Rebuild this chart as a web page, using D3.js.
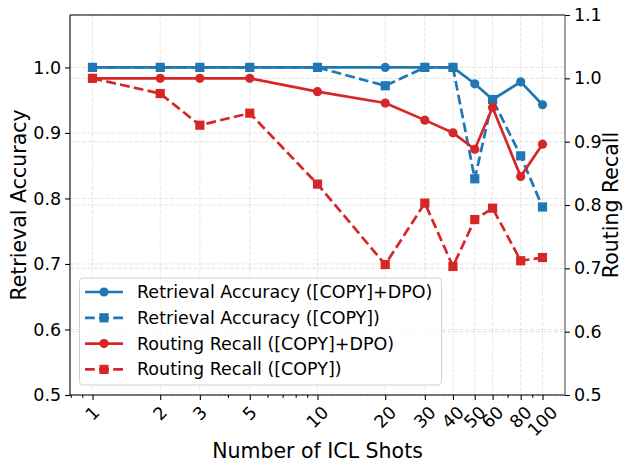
<!DOCTYPE html>
<html>
<head>
<meta charset="utf-8">
<script src="https://cdn.jsdelivr.net/npm/d3@7"></script>
<style>
  html, body { margin: 0; padding: 0; background: #fff; }
  svg { display: block; font-family: "DejaVu Sans", sans-serif; }
</style>
</head>
<body>
<svg id="chart" width="626" height="462"></svg>
<script>
// ---- data ----
const shots = [1, 2, 3, 5, 10, 20, 30, 40, 50, 60, 80, 100];
const shotTickLabels = ["1", "2", "3", "5", "10", "20", "30", "40", "50", "60", "80", "100"];
const minorShotTicks = [0.8, 0.9, 4, 6, 7, 8, 9, 70, 90];
const retrievalDPO  = [1.0, 1.0, 1.0, 1.0, 1.0, 1.0, 1.0, 1.0, 0.975, 0.951, 0.978, 0.943];
const retrievalCopy = [1.0, 1.0, 1.0, 1.0, 1.0, 0.972, 1.0, 1.0, 0.830, 0.951, 0.865, 0.787];
const routingDPO    = [1.0, 1.0, 1.0, 1.0, 0.979, 0.961, 0.934, 0.914, 0.888, 0.954, 0.845, 0.896];
const routingCopy   = [1.0, 0.976, 0.926, 0.945, 0.833, 0.706, 0.803, 0.703, 0.777, 0.795, 0.712, 0.717];
const leftTicks  = [0.5, 0.6, 0.7, 0.8, 0.9, 1.0];
const rightTicks = [0.5, 0.6, 0.7, 0.8, 0.9, 1.0, 1.1];
const seriesNames = [
  "Retrieval Accuracy ([COPY]+DPO)",
  "Retrieval Accuracy ([COPY])",
  "Routing Recall ([COPY]+DPO)",
  "Routing Recall ([COPY])"
];

// ---- layout ----
const L = 70, R = 565, T = 15, B = 395;
const BLUE = "#1f77b4", RED = "#d62728";
const svg = d3.select("#chart");

const x = d3.scaleLog().domain([Math.pow(10, -0.1), Math.pow(10, 2.1)]).range([L, R]);
const yL = d3.scaleLinear().domain([0.5, 1.08]).range([B, T]);
const yR = d3.scaleLinear().domain([0.5, 1.1]).range([B, T]);

// ---- grid ----
const grid = svg.append("g").attr("stroke", "#b0b0b0").attr("stroke-opacity", 0.3)
  .attr("stroke-width", 1.1).attr("stroke-dasharray", "4.1,1.8");
shots.forEach(s => {
  grid.append("line").attr("x1", x(s)).attr("x2", x(s)).attr("y1", T).attr("y2", B);
});
leftTicks.forEach(v => {
  grid.append("line").attr("x1", L).attr("x2", R).attr("y1", yL(v)).attr("y2", yL(v));
});
rightTicks.forEach(v => {
  grid.append("line").attr("x1", L).attr("x2", R).attr("y1", yR(v)).attr("y2", yR(v));
});

// ---- series ----
const MR = 4.6;
function drawSeries(vals, yScale, color, dashed, marker) {
  const g = svg.append("g");
  const pts = shots.map((s, i) => [x(s), yScale(vals[i])]);
  g.append("path")
    .attr("d", d3.line()(pts))
    .attr("fill", "none").attr("stroke", color).attr("stroke-width", 2.7)
    .attr("stroke-linejoin", "round")
    .attr("stroke-dasharray", dashed ? "9.8,4.3" : null);
  pts.forEach(p => {
    if (marker === "circle") {
      g.append("circle").attr("cx", p[0]).attr("cy", p[1]).attr("r", MR).attr("fill", color);
    } else {
      g.append("rect").attr("x", p[0] - MR).attr("y", p[1] - MR)
        .attr("width", 2 * MR).attr("height", 2 * MR).attr("fill", color);
    }
  });
}
drawSeries(retrievalDPO, yL, BLUE, false, "circle");
drawSeries(retrievalCopy, yL, BLUE, true, "square");
drawSeries(routingDPO, yR, RED, false, "circle");
drawSeries(routingCopy, yR, RED, true, "square");

// ---- spines ----
svg.append("line").attr("x1", L).attr("x2", L).attr("y1", T).attr("y2", B).attr("stroke", "#000").attr("stroke-width", 1.1);
svg.append("line").attr("x1", L).attr("x2", R).attr("y1", B).attr("y2", B).attr("stroke", "#000").attr("stroke-width", 1.1);
svg.append("line").attr("x1", L).attr("x2", R).attr("y1", T).attr("y2", T).attr("stroke", "#000").attr("stroke-width", 1.1);
svg.append("line").attr("x1", R).attr("x2", R).attr("y1", T).attr("y2", B).attr("stroke", "#777").attr("stroke-width", 1.4);

// ---- axes ----
const fontTick = 17.5;
const gL = svg.append("g").attr("transform", `translate(${L},0)`)
  .call(d3.axisLeft(yL).tickValues(leftTicks).tickFormat(d3.format(".1f")).tickSizeOuter(0).tickSize(4.9).tickPadding(4));
const gR = svg.append("g").attr("transform", `translate(${R},0)`)
  .call(d3.axisRight(yR).tickValues(rightTicks).tickFormat(d3.format(".1f")).tickSizeOuter(0).tickSize(4.9).tickPadding(4));
const gB = svg.append("g").attr("transform", `translate(0,${B})`)
  .call(d3.axisBottom(x).tickValues(shots).tickFormat("").tickSizeOuter(0).tickSize(4.9));
const gBm = svg.append("g").attr("transform", `translate(0,${B})`)
  .call(d3.axisBottom(x).tickValues(minorShotTicks).tickFormat("").tickSizeOuter(0).tickSize(2.8));
[gL, gR, gB, gBm].forEach(g => {
  g.select(".domain").remove();
  g.selectAll(".tick line").attr("stroke", "#000").attr("stroke-width", 1.1);
  g.selectAll("text").attr("font-family", "DejaVu Sans").attr("font-size", fontTick).attr("fill", "#000");
});

// rotated x tick labels (45°, centered on tick)
const xl = svg.append("g");
shots.forEach((s, i) => {
  const t = xl.append("text").text(shotTickLabels[i])
    .attr("font-size", fontTick).attr("fill", "#000")
    .attr("text-anchor", "middle").attr("dominant-baseline", "central");
  const w = t.node().getComputedTextLength();
  const h = fontTick * 0.73;
  const half = (w + h) / (2 * Math.SQRT2);
  const cx = x(s), cy = B + 4.9 + 4.9 + half;
  t.attr("x", cx).attr("y", cy).attr("transform", `rotate(-45,${cx},${cy})`);
});

// axis titles
svg.append("text").text("Number of ICL Shots")
  .attr("x", (L + R) / 2).attr("y", 458).attr("text-anchor", "middle")
  .attr("font-size", 20.5).attr("fill", "#000");
svg.append("text").text("Retrieval Accuracy")
  .attr("transform", `translate(26,${(T + B) / 2}) rotate(-90)`).attr("text-anchor", "middle")
  .attr("font-size", 20.5).attr("fill", "#000");
svg.append("text").text("Routing Recall")
  .attr("transform", `translate(618,${(T + B) / 2}) rotate(-90)`).attr("text-anchor", "middle")
  .attr("font-size", 20.5).attr("fill", "#000");

// ---- legend ----
const lg = svg.append("g");
lg.append("rect").attr("x", 79.5).attr("y", 278).attr("width", 362).attr("height", 107)
  .attr("rx", 3.5).attr("fill", "#fff").attr("fill-opacity", 0.8)
  .attr("stroke", "#d0d0d0").attr("stroke-width", 1);
const legendSpec = [
  { color: BLUE, dashed: false, marker: "circle" },
  { color: BLUE, dashed: true, marker: "square" },
  { color: RED, dashed: false, marker: "circle" },
  { color: RED, dashed: true, marker: "square" }
];
legendSpec.forEach((d, i) => {
  const yy = 292 + i * 25.8;
  lg.append("line").attr("x1", 85).attr("x2", 123).attr("y1", yy).attr("y2", yy)
    .attr("stroke", d.color).attr("stroke-width", 2.7)
    .attr("stroke-dasharray", d.dashed ? "9.8,4.3" : null);
  if (d.marker === "circle") {
    lg.append("circle").attr("cx", 104).attr("cy", yy).attr("r", MR).attr("fill", d.color);
  } else {
    lg.append("rect").attr("x", 104 - MR).attr("y", yy - MR).attr("width", 2 * MR).attr("height", 2 * MR).attr("fill", d.color);
  }
  lg.append("text").text(seriesNames[i]).attr("x", 137).attr("y", yy)
    .attr("dominant-baseline", "central").attr("font-size", 17.5).attr("fill", "#000");
});
</script>
</body>
</html>
